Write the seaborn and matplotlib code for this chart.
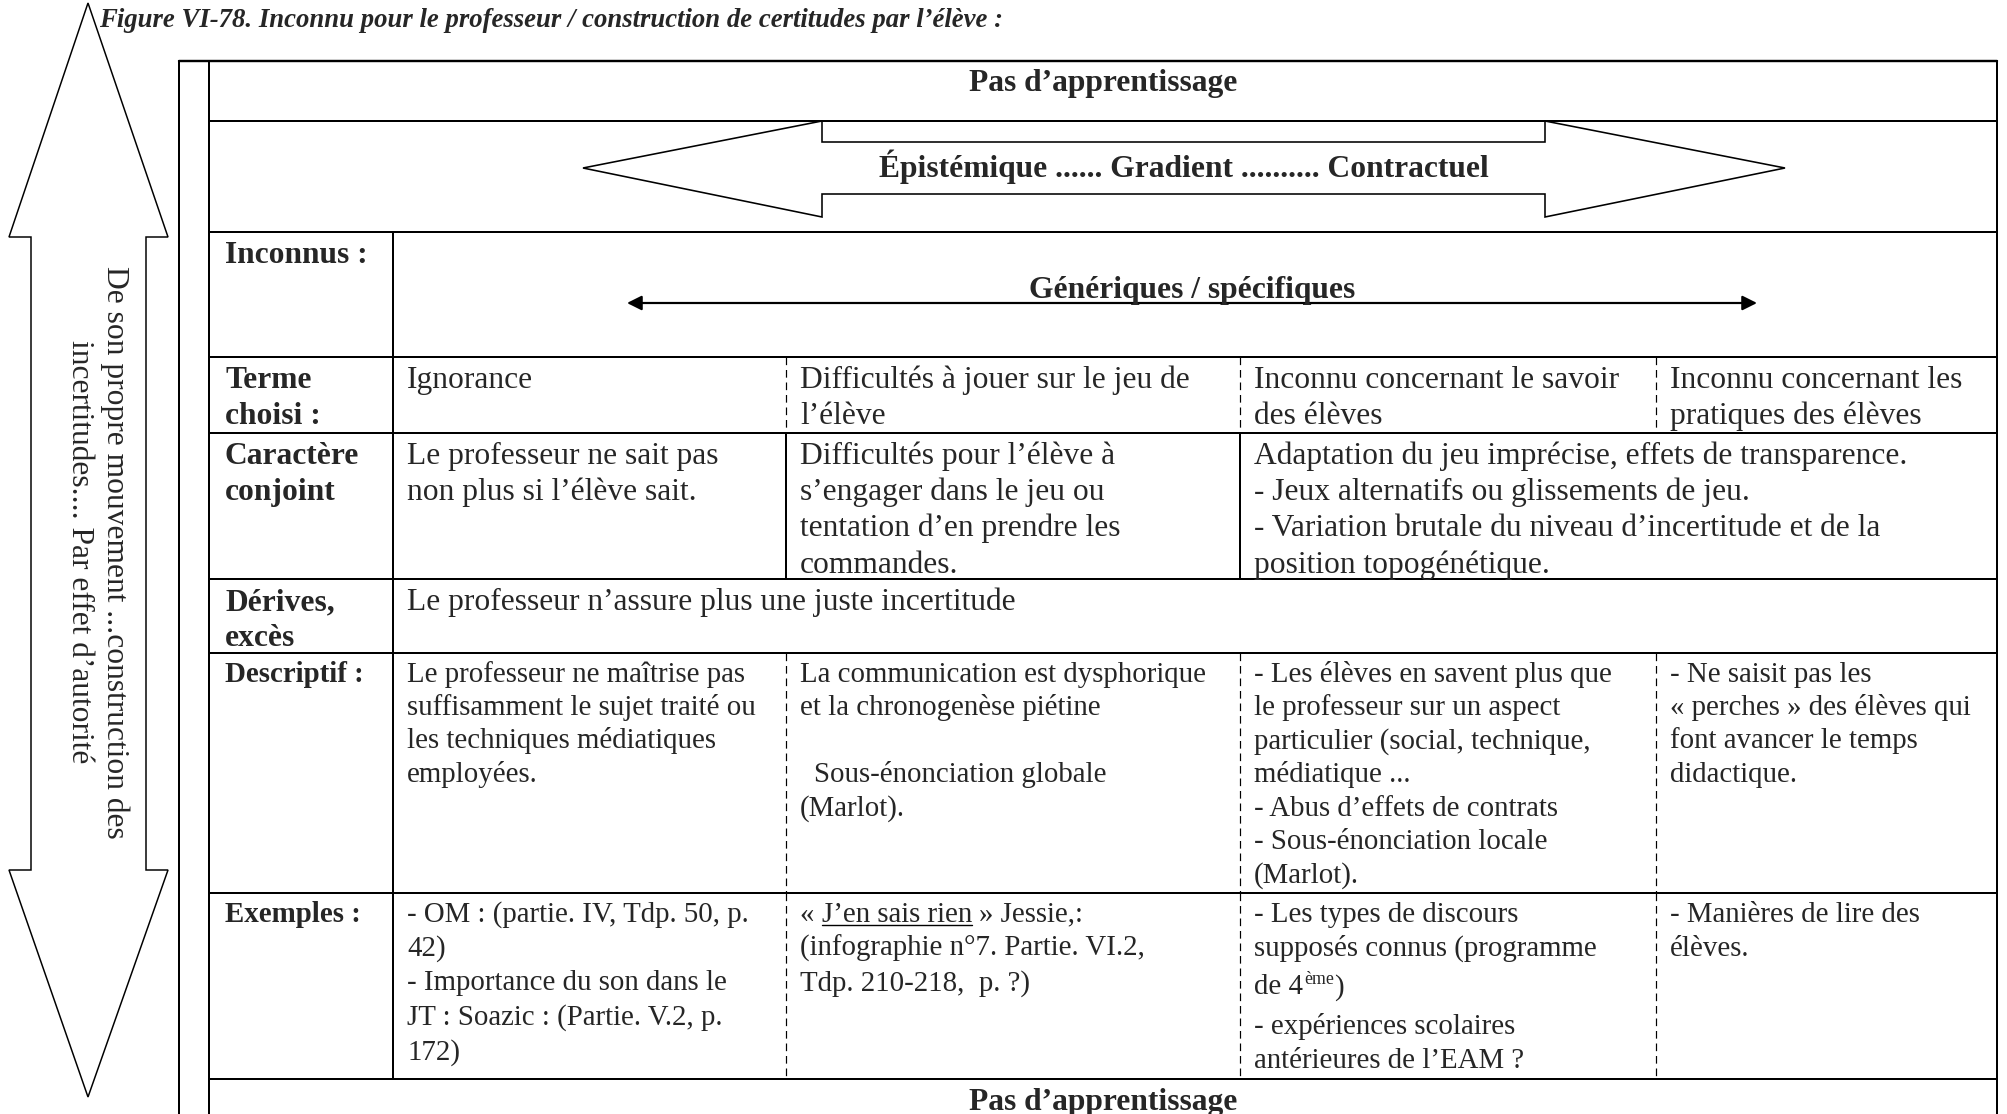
import re
import seaborn as sns
import matplotlib.pyplot as plt
from matplotlib.patches import Polygon

# ---- texts of the figure ----
title = "Figure VI-78. Inconnu pour le professeur / construction de certitudes par l’élève :"
top_label = "Pas d’apprentissage"
bottom_label = "Pas d’apprentissage"
gradient_label = "Épistémique ...... Gradient .......... Contractuel"
generic_label = "Génériques / spécifiques"
side_lines = ["De son propre mouvement ...construction des",
              "incertitudes.... Par effet d’autorité"]

row_labels = [["Inconnus :"], ["Terme", "choisi :"], ["Caractère", "conjoint"],
              ["Dérives,", "excès"], ["Descriptif :"], ["Exemples :"]]

terme = [["Ignorance"],
         ["Difficultés à jouer sur le jeu de", "l’élève"],
         ["Inconnu concernant le savoir", "des élèves"],
         ["Inconnu concernant les", "pratiques des élèves"]]

caractere = [["Le professeur ne sait pas", "non plus si l’élève sait."],
             ["Difficultés pour l’élève à", "s’engager dans le jeu ou",
              "tentation d’en prendre les", "commandes."],
             ["Adaptation du jeu imprécise, effets de transparence.",
              "- Jeux alternatifs ou glissements de jeu.",
              "- Variation brutale du niveau d’incertitude et de la",
              "position topogénétique."]]

derives = [["Le professeur n’assure plus une juste incertitude"]]

descriptif = [["Le professeur ne maîtrise pas", "suffisamment le sujet traité ou",
               "les techniques médiatiques", "employées."],
              ["La communication est dysphorique", "et la chronogenèse piétine", "",
               "  Sous-énonciation globale", "(Marlot)."],
              ["- Les élèves en savent plus que", "le professeur sur un aspect",
               "particulier (social, technique,", "médiatique ...",
               "- Abus d’effets de contrats", "- Sous-énonciation locale", "(Marlot)."],
              ["- Ne saisit pas les", "« perches » des élèves qui",
               "font avancer le temps", "didactique."]]

exemples = [["- OM : (partie. IV, Tdp. 50, p.", "42)", "- Importance du son dans le",
             "JT : Soazic : (Partie. V.2, p.", "172)"],
            ["« _J’en sais rien_ » Jessie,:", "(infographie n°7. Partie. VI.2,",
             "Tdp. 210-218,  p. ?)"],
            ["- Les types de discours", "supposés connus (programme", "de 4^ème^)",
             "- expériences scolaires", "antérieures de l’EAM ?"],
            ["- Manières de lire des", "élèves."]]

# ---- layout (pixels) ----
W, H = 2007, 1114
PT = 0.72                      # points per pixel at dpi 100
F12, F11 = 31.5 * PT, 28.9 * PT
col_x = [179, 209, 393, 786, 1240, 1656, 1997]
row_y = [61, 121, 232, 357, 433, 579, 653, 893, 1079]
LW = 2.0 * PT

sns.set_theme(style="white")
plt.rcParams['font.family'] = ['Liberation Serif', 'DejaVu Serif']
plt.rcParams['lines.scale_dashes'] = False

fig = plt.figure(figsize=(W / 100, H / 100), dpi=100)
ax = fig.add_axes([0, 0, 1, 1])
ax.set_xlim(0, W)
ax.set_ylim(H, 0)
ax.axis('off')
r = fig.canvas.get_renderer()


def width(s, size, weight='normal'):
    t1 = ax.text(0, 0, s + "|", fontsize=size, fontweight=weight)
    t2 = ax.text(0, 0, "|", fontsize=size, fontweight=weight)
    w = t1.get_window_extent(r).width - t2.get_window_extent(r).width
    t1.remove(); t2.remove()
    return w


def draw_line(x, y, s, size, weight='normal'):
    cur = x
    for seg in re.split(r'(_[^_]+_|\^[^^]+\^)', s):
        if not seg:
            continue
        kind = 'plain'
        if seg.startswith('_'):
            kind, seg = 'under', seg[1:-1]
        elif seg.startswith('^'):
            kind, seg = 'sup', seg[1:-1]
        lead = len(seg) - len(seg.lstrip())
        if lead:
            cur += width(" " * lead, size, weight)
            seg = seg.lstrip()
        if kind == 'sup':
            ss = size * 0.62
            ax.text(cur + 1, y - size / PT * 0.36, seg, fontsize=ss, va='baseline')
            cur += width(seg, ss) + 1
            continue
        ax.text(cur, y, seg, fontsize=size, fontweight=weight, va='baseline')
        w = width(seg, size, weight)
        if kind == 'under':
            ax.plot([cur, cur + w], [y + 3, y + 3], color='black', lw=1.4 * PT)
        cur += w


def draw_block(x, y0, lines, size, step, weight='normal'):
    off = 0
    for i, s in enumerate(lines):
        if '^' in s:
            off += 4
        draw_line(x, y0 + i * step + off, s, size, weight)
        if '^' in s:
            off += 5


# ---- grid lines ----
ax.plot([col_x[0], col_x[-1]], [row_y[0], row_y[0]], color='black', lw=2.4 * PT)
for x in (col_x[0], col_x[1], col_x[-1]):
    ax.plot([x, x], [row_y[0], H], color='black', lw=LW)
for y in row_y[1:]:
    ax.plot([col_x[1], col_x[-1]], [y, y], color='black', lw=LW)
ax.plot([col_x[2], col_x[2]], [row_y[2], row_y[8]], color='black', lw=LW)
for x in (col_x[3], col_x[4]):
    ax.plot([x, x], [row_y[4], row_y[5]], color='black', lw=LW)
for top, bot in ((row_y[3], row_y[4]), (row_y[6], row_y[7]), (row_y[7], row_y[8])):
    for x in col_x[3:6]:
        ax.plot([x, x], [top, bot], color='black', lw=1.2 * PT,
                linestyle=(0, (5.5, 3.5)))

# ---- big vertical double arrow ----
ax.add_patch(Polygon([(88, 3), (168, 237), (146, 237), (146, 870), (168, 870),
                      (88, 1097), (9, 870), (31, 870), (31, 237), (9, 237)],
                     closed=True, facecolor='white', edgecolor='black', lw=1.5 * PT))
for xc, s in zip((115, 79), side_lines):
    ax.text(xc, 552, s, fontsize=F12, rotation=270, ha='center', va='center')

# ---- horizontal hollow double arrow ----
ax.add_patch(Polygon([(583, 168), (822, 121), (822, 142), (1545, 142), (1545, 121),
                      (1785, 168), (1545, 217), (1545, 194), (822, 194), (822, 217)],
                     closed=True, facecolor='white', edgecolor='black', lw=1.6 * PT))
ax.text(1184, 177, gradient_label, fontsize=F12, fontweight='bold', ha='center', va='baseline')

# generic / specific arrow
ax.annotate('', xy=(627, 303), xytext=(1757, 303),
            arrowprops=dict(arrowstyle='<|-|>', color='black', lw=2.2 * PT,
                            mutation_scale=22, shrinkA=0, shrinkB=0))
ax.text(1192, 298, generic_label, fontsize=F12, fontweight='bold', ha='center', va='baseline')

# ---- title and spanning rows ----
ax.text(99, 27, title, fontsize=26.8 * PT, fontweight='bold', fontstyle='italic', va='baseline')
ax.text(1103, 91, top_label, fontsize=F12, fontweight='bold', ha='center', va='baseline')
ax.text(1103, 1110, bottom_label, fontsize=F12, fontweight='bold', ha='center', va='baseline')

# ---- table rows ----
cx = [407, 800, 1254, 1670]
rows = [(row_y[2], F12, 36.2, row_labels[0], []),
        (row_y[3], F12, 36.2, row_labels[1], terme),
        (row_y[4], F12, 36.2, row_labels[2], caractere),
        (row_y[5], F12, 36.2, row_labels[3], derives),
        (row_y[6], F11, 33.5, row_labels[4], descriptif),
        (row_y[7], F11, 34.5, row_labels[5], exemples)]
for top, size, step, label, cells in rows:
    base = top + (31 if size == F12 else 28.5)
    draw_block(225, base, label, size, step, weight='bold')
    for x, lines in zip(cx, cells):
        draw_block(x, base, lines, size, step)

fig.savefig('out.png', dpi=100, facecolor='white')
